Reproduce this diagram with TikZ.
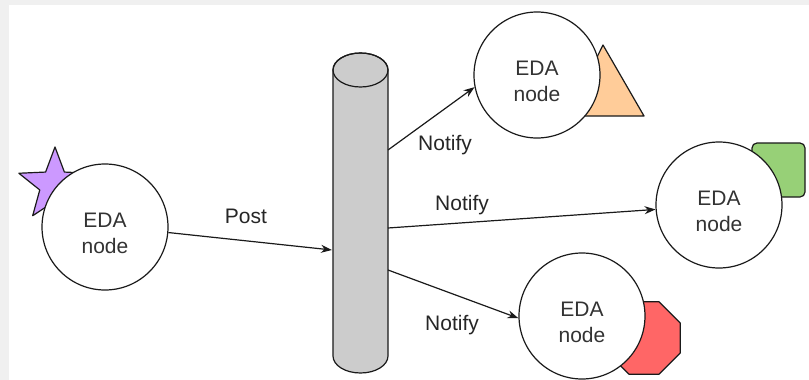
\documentclass[tikz,border=0pt]{standalone}
\usepackage{fontspec}
\setmainfont{Liberation Sans}
\usetikzlibrary{arrows.meta}
\definecolor{bggray}{HTML}{F0F0F0}
\definecolor{starpurple}{HTML}{CC99FF}
\definecolor{triorange}{HTML}{FFCC99}
\definecolor{sqgreen}{HTML}{97D077}
\definecolor{octred}{HTML}{FF6666}
\definecolor{cylgray}{HTML}{CCCCCC}
\definecolor{edge}{HTML}{1A1A1A}
\begin{document}
\begin{tikzpicture}[x=1pt,y=-1pt,
  eda/.style={circle,draw=edge,fill=white,line width=1.2pt,minimum size=126pt,inner sep=0pt},
  edatext/.style={align=center,font=\fontsize{21}{26}\selectfont,text=black!80,inner sep=0pt},
  deco/.style={draw=edge,line width=1.2pt,line join=round},
  conn/.style={draw=edge,line width=1.2pt,-{Stealth[length=11pt,width=8pt]}},
  lbl/.style={font=\fontsize{21}{25}\selectfont,text=black!85,inner sep=0pt}]
\useasboundingbox (0,0) rectangle (809,380);
\fill[bggray] (0,0) rectangle (809,380);
\fill[white] (9,5) rectangle (809,380);
% decorations behind nodes
\draw[deco,fill=starpurple] ({55+38*cos(90)},{185-38*sin(90)})
  \foreach \i in {1,...,9} {
    \pgfextra{\pgfmathsetmacro\ang{90+36*\i}\pgfmathsetmacro\rr{mod(\i,2)==0?38:16}}
    -- ({55+\rr*cos(\ang)},{185-\rr*sin(\ang)})
  } -- cycle;
\draw[deco,fill=triorange] (603,45) -- (644,116) -- (568,116) -- cycle;
\draw[deco,fill=sqgreen,rounded corners=5pt] (752,143) rectangle (805,197);
\draw[deco,fill=octred] ({644+39.2*cos(22.5)},{338-39.2*sin(22.5)})
  \foreach \k in {1,...,7} { -- ({644+39.2*cos(22.5+45*\k)},{338-39.2*sin(22.5+45*\k)}) } -- cycle;
% cylinder
\filldraw[draw=edge,fill=cylgray,line width=1.2pt] (333,70) -- (333,356) arc[start angle=180,end angle=360,x radius=27.5,y radius=-17] -- (388,70) arc[start angle=0,end angle=180,x radius=27.5,y radius=-17] -- cycle;
\draw[edge,line width=1.2pt] (360.5,70) ellipse[x radius=27.5,y radius=17];
\coordinate (cin) at (332,250);
\coordinate (c1) at (388,150);
\coordinate (c2) at (388,228);
\coordinate (c3) at (388,270);
% nodes
\node[eda] (L) at (105,227) {};
\node[eda] (T) at (537,75) {};
\node[eda] (R) at (719,205) {};
\node[eda] (B) at (582,316) {};
\node[edatext] (Lt) at (105,233) {EDA\\node};
\node[edatext] (Tt) at (537,81) {EDA\\node};
\node[edatext] (Rt) at (719,211) {EDA\\node};
\node[edatext] (Bt) at (582,322) {EDA\\node};
% connectors
\draw[conn] (L.355) -- (cin);
\draw[conn] (c1) -- (T.191);
\draw[conn] (c2) -- (R.184);
\draw[conn] (c3) -- (B.182);
% labels
\node[lbl] (pl) at (246,216) {Post};
\node[lbl] (n1) at (445,145) {Notify};
\node[lbl] (n2) at (462,205) {Notify};
\node[lbl] (n3) at (452,325) {Notify};
\end{tikzpicture}
\end{document}
